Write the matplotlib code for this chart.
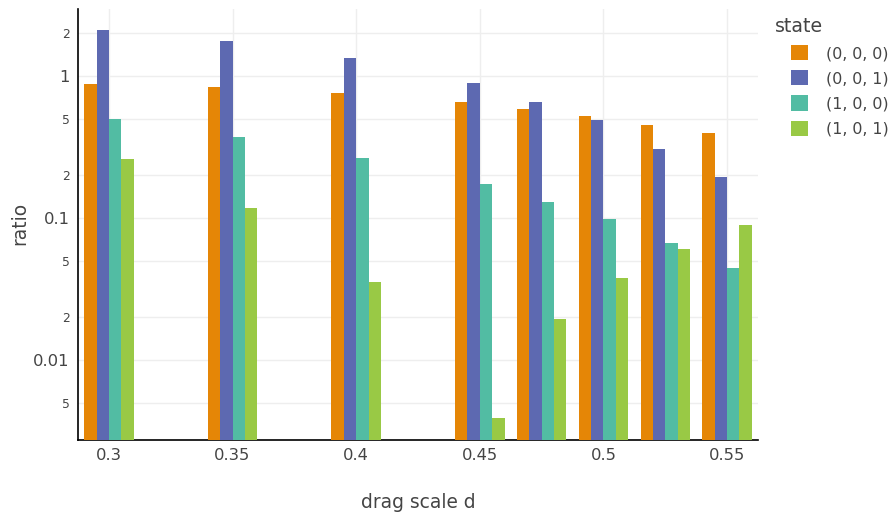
import matplotlib
matplotlib.use("Agg")
import matplotlib.pyplot as plt
from matplotlib.patches import Patch
import numpy as np

plt.rcParams['font.family'] = ['DejaVu Sans']

drag_scale = [0.3, 0.35, 0.4, 0.45, 0.475, 0.5, 0.525, 0.55]
states = ["(0, 0, 0)", "(0, 0, 1)", "(1, 0, 0)", "(1, 0, 1)"]
ratio_000 = [0.879, 0.837, 0.758, 0.656, 0.586, 0.523, 0.452, 0.397]
ratio_001 = [2.11, 1.76, 1.34, 0.893, 0.656, 0.490, 0.306, 0.195]
ratio_100 = [0.498, 0.372, 0.265, 0.173, 0.130, 0.0984, 0.0667, 0.0445]
ratio_101 = [0.260, 0.1175, 0.0354, 0.00391, 0.0194, 0.0378, 0.0605, 0.0894]
colors = ["#E58606", "#5D69B1", "#52BCA3", "#99C945"]
x_ticks = [0.3, 0.35, 0.4, 0.45, 0.5, 0.55]

series = [ratio_000, ratio_001, ratio_100, ratio_101]
TXT = "#444444"

W, H = 894, 517
fig = plt.figure(figsize=(W / 100, H / 100), dpi=100)
ax = fig.add_axes([78 / W, 1 - 440 / H, (758 - 78) / W, (440 - 9) / H])

y_lo = 10 ** (-2.563)
y_hi = 10 ** (0.472)
bar_w = 0.005
x = np.array(drag_scale)
for i, (vals, c) in enumerate(zip(series, colors)):
    v = np.array(vals)
    ax.bar(x + (i - 1.5) * bar_w, v - y_lo, bottom=y_lo, width=bar_w,
           color=c, linewidth=0, zorder=3)

ax.set_yscale('log')
ax.set_ylim(y_lo, y_hi)
ax.set_xlim(0.2875, 0.5625)

major = [0.01, 0.1, 1]
minor = [0.005, 0.02, 0.05, 0.2, 0.5, 2]
ax.set_yticks(major)
ax.set_yticklabels(["0.01", "0.1", "1"], fontsize=11.8, color=TXT)
ax.set_yticks(minor, minor=True)
ax.set_yticklabels(["5", "2", "5", "2", "5", "2"], minor=True, fontsize=8.8,
                   color=TXT)
ax.set_xticks(x_ticks)
ax.set_xticklabels(["0.3", "0.35", "0.4", "0.45", "0.5", "0.55"],
                   fontsize=11.8, color=TXT)
ax.tick_params(axis='both', which='both', length=0, pad=6)
ax.tick_params(axis='x', pad=6)

ax.grid(True, which='both', axis='y', color="#eeeeee", linewidth=1, zorder=0)
ax.grid(True, which='major', axis='x', color="#eeeeee", linewidth=1, zorder=0)
ax.set_axisbelow(True)

for s in ['top', 'right']:
    ax.spines[s].set_visible(False)
for s in ['left', 'bottom']:
    ax.spines[s].set_color("black")
    ax.spines[s].set_linewidth(1.2)

ax.set_xlabel("drag scale d", fontsize=13.4, color=TXT, labelpad=21)
ax.set_ylabel("ratio", fontsize=13.4, color=TXT)
ax.yaxis.set_label_coords(-0.072, 0.503)

# legend title drawn separately so it sits left of the swatches
fig.text(775 / W, 1 - 27 / H, "state", fontsize=13.6, color=TXT,
         ha='left', va='center')
handles = [Patch(facecolor=c, edgecolor='none') for c in colors]
leg = fig.legend(handles, states, loc='upper left',
                 bbox_to_anchor=(780 / W, 1 - 34 / H), frameon=False,
                 fontsize=11.4, handlelength=1.1, handleheight=1.1,
                 handletextpad=1.1, labelspacing=0.58, borderpad=0.2,
                 labelcolor=TXT)

fig.savefig("out.png", dpi=100)
